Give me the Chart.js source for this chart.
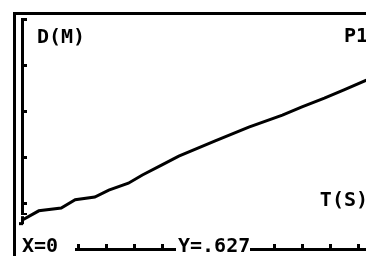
<!DOCTYPE html>
<html>
<head>
<meta charset="utf-8">
<script src="https://cdn.jsdelivr.net/npm/chart.js@4"></script>
<style>
    html, body { margin: 0; padding: 0; background: #fff; }
    #wrap { width: 366px; height: 256px; }
</style>
</head>
<body>
<div id="wrap"><canvas id="graph"></canvas></div>
<script>
// time (s) and distance (m)
const times = [0, 0.6, 1.4, 1.9, 2.6, 3.1, 3.8, 4.3, 5.0, 5.6, 6.9, 8.1, 9.3, 10.0, 10.8, 11.5, 12.3];
const dist = [0.627, 0.83, 0.89, 1.07, 1.13, 1.28, 1.43, 1.61, 1.83, 2.02, 2.35, 2.65, 2.91, 3.09, 3.28, 3.46, 3.67];
const xTicks = [1, 2, 3, 4, 5, 6, 7, 8, 9, 10, 11, 12];
const yTicks = [1, 2, 3, 4, 5];
const yLabel = 'D(M)';
const xLabel = 'T(S)';
const plotName = 'P1';
const traceX = 'X=0';
const traceY = 'Y=.627';

const FONT = 'bold 20px "DejaVu Sans Mono"';

const screenPlugin = {
    id: 'screen',
    afterDatasetsDraw(chart) {
        const ctx = chart.ctx;
        const xs = chart.scales.x;
        const ys = chart.scales.y;
        const x0 = xs.getPixelForValue(0);
        const yZero = ys.getPixelForValue(0);

        ctx.save();
        ctx.fillStyle = '#000';

        // outer frame (top and left)
        ctx.fillRect(13, 12, 353, 3);
        ctx.fillRect(13, 12, 3, 244);

        // y axis with ticks
        const yTop = ys.getPixelForValue(5);
        ctx.fillRect(x0 - 1, yTop, 3, 215 - yTop);
        yTicks.forEach(v => {
            const p = Math.round(ys.getPixelForValue(v));
            ctx.fillRect(x0 - 1, p - 1, 6, 3);
        });
        ctx.fillRect(x0 - 1, 213, 6, 2);

        // x axis with ticks
        ctx.fillRect(x0, yZero - 1, 366 - x0, 3);
        xTicks.forEach(v => {
            const p = Math.round(xs.getPixelForValue(v));
            ctx.fillRect(p - 1, yZero - 5, 3, 5);
        });

        // trace cursor at first point
        const cx = x0;
        const cy = ys.getPixelForValue(dist[0]);
        ctx.fillRect(cx - 1, cy - 4, 3, 8);
        ctx.fillRect(cx - 3, cy + 2, 4, 3);

        // texts
        ctx.font = FONT;
        ctx.textBaseline = 'alphabetic';
        ctx.textAlign = 'left';
        ctx.fillText(yLabel, 37, 43);
        ctx.textAlign = 'right';
        ctx.fillText(plotName, 368, 42);
        ctx.fillText(xLabel, 368, 206);

        // bottom trace row (white behind text)
        ctx.textAlign = 'left';
        ctx.fillStyle = '#fff';
        ctx.fillRect(17, 232, 58, 24);
        ctx.fillRect(176, 232, 74, 24);
        ctx.fillStyle = '#000';
        ctx.fillText(traceX, 22, 252);
        ctx.fillText(traceY, 178, 252);
        ctx.restore();
    }
};

function drawGraph() {
    new Chart(document.getElementById('graph'), {
        type: 'line',
        data: {
            datasets: [{
                data: times.map((t, i) => ({ x: t, y: dist[i] })),
                borderColor: '#000',
                borderWidth: 3,
                pointRadius: 0,
                tension: 0,
                fill: false
            }]
        },
        options: {
            responsive: true,
            maintainAspectRatio: false,
            animation: false,
            layout: { padding: { left: 22, right: 0, top: 14, bottom: 7 } },
            plugins: { legend: { display: false }, tooltip: { enabled: false } },
            scales: {
                x: { type: 'linear', min: 0, max: 12.286, display: false },
                y: { type: 'linear', min: 0, max: 5.109, display: false }
            }
        },
        plugins: [screenPlugin]
    });
}

window.onload = function () {
    drawGraph();
};
</script>
</body>
</html>
